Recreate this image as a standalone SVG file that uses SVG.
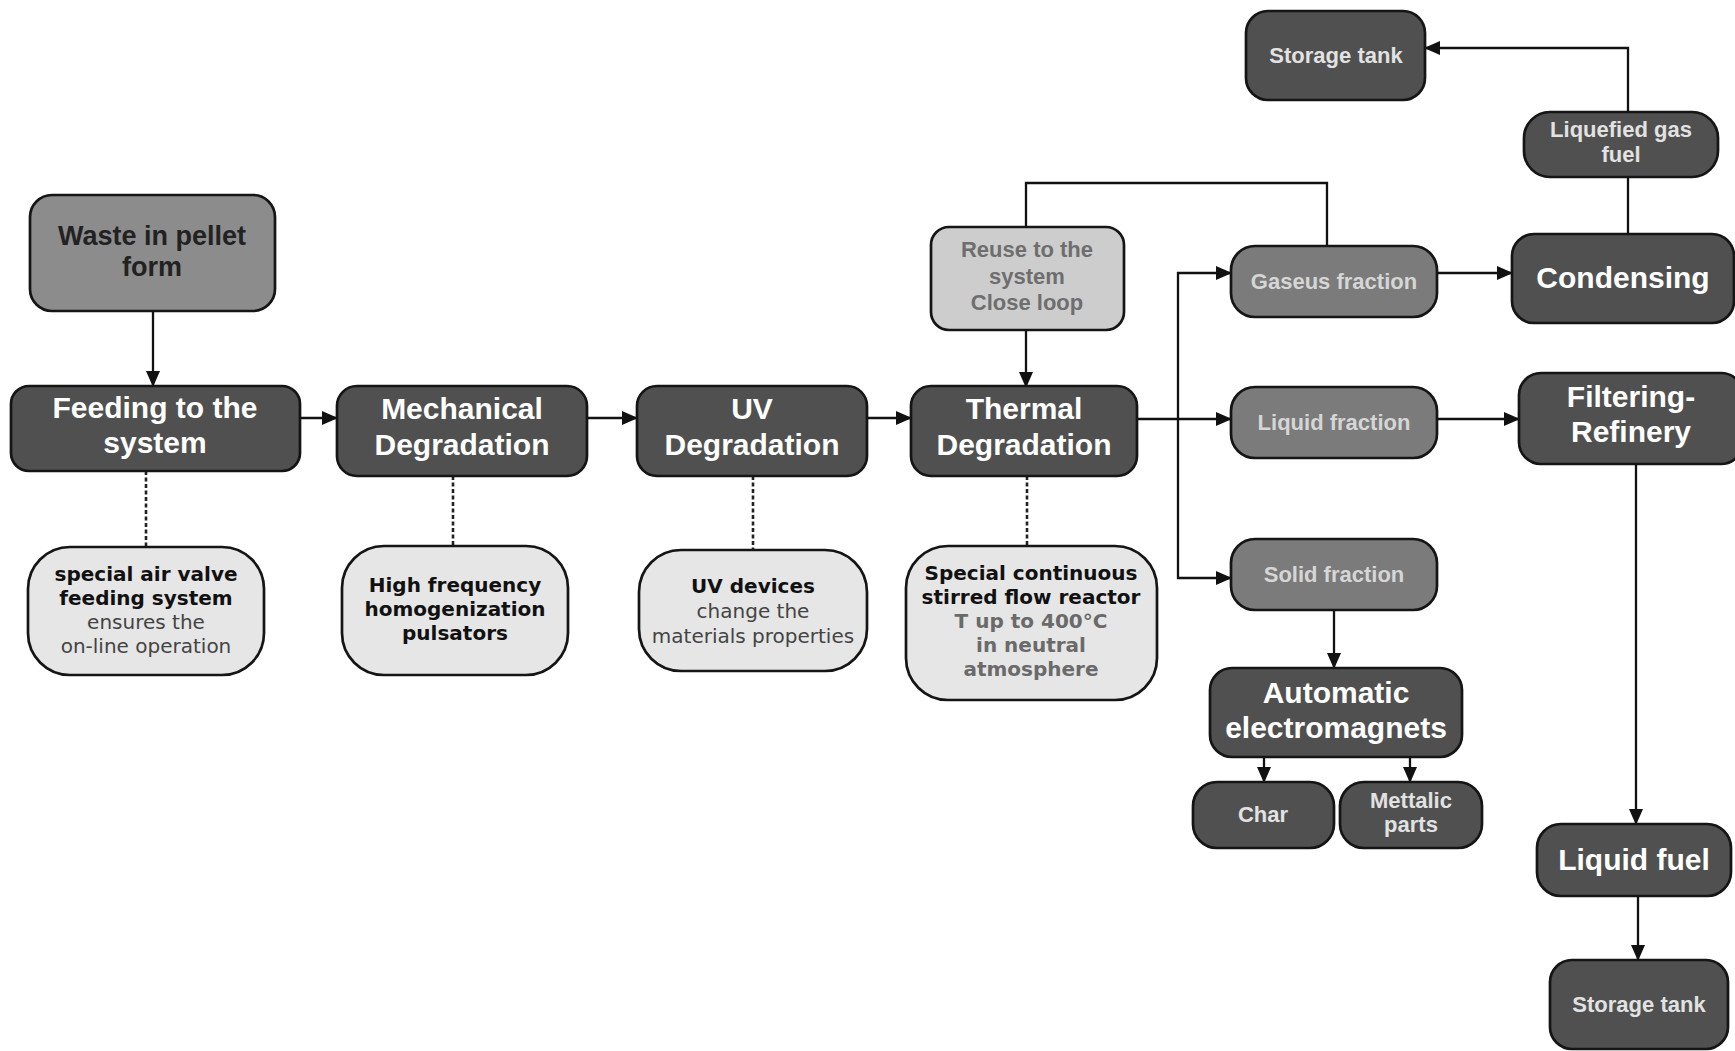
<svg xmlns="http://www.w3.org/2000/svg" width="1735" height="1051" viewBox="0 0 1735 1051">
<defs>
<marker id="ah" markerWidth="16" markerHeight="14" refX="15" refY="7" orient="auto" markerUnits="userSpaceOnUse">
<path d="M0,0 L16,7 L0,14 z" fill="#111"/>
</marker>
<style>
.box{stroke:#151515;stroke-width:2.7}
.dark{fill:#505050}
.frac{fill:#7b7b7b}
.waste{fill:#8c8c8c}
.reuse{fill:#cdcdcd}
.note{fill:#e6e6e6}
.big{font-family:"Liberation Sans",Arial,sans-serif;font-weight:bold;font-size:30px;fill:#ffffff;text-anchor:middle}
.sm{font-family:"Liberation Sans",Arial,sans-serif;font-weight:bold;font-size:22px;fill:#e2e2e2;text-anchor:middle}
.fr{font-family:"Liberation Sans",Arial,sans-serif;font-weight:bold;font-size:22px;fill:#d6d6d6;text-anchor:middle}
.wt{font-family:"Liberation Sans",Arial,sans-serif;font-weight:bold;font-size:27px;fill:#222;text-anchor:middle}
.rt{font-family:"Liberation Sans",Arial,sans-serif;font-weight:bold;font-size:22px;fill:#6e6e6e;text-anchor:middle}
.nb{font-family:"DejaVu Sans",Verdana,sans-serif;font-weight:bold;font-size:20px;fill:#111;text-anchor:middle}
.nr{font-family:"DejaVu Sans",Verdana,sans-serif;font-size:20px;fill:#444;text-anchor:middle}
.ng{font-family:"DejaVu Sans",Verdana,sans-serif;font-weight:bold;font-size:20px;fill:#6a6a6a;text-anchor:middle}
.ln{fill:none;stroke:#111;stroke-width:2.3}
.dash{fill:none;stroke:#222;stroke-width:2.6;stroke-dasharray:4 2.5}
</style>
</defs>
<rect width="1735" height="1051" fill="#ffffff"/>
<g id="connectors">
<path class="ln" d="M153,311 V386" marker-end="url(#ah)"/>
<path class="ln" d="M300,418 H337" marker-end="url(#ah)"/>
<path class="ln" d="M587,418 H637" marker-end="url(#ah)"/>
<path class="ln" d="M867,418 H911" marker-end="url(#ah)"/>
<path class="ln" d="M1137,419 H1231" marker-end="url(#ah)"/>
<path class="ln" d="M1178,419 V273 H1231" marker-end="url(#ah)"/>
<path class="ln" d="M1178,419 V578 H1231" marker-end="url(#ah)"/>
<path class="ln" d="M1437,273 H1512" marker-end="url(#ah)"/>
<path class="ln" d="M1437,419 H1519" marker-end="url(#ah)"/>
<path class="ln" d="M1327,246 V183 H1026 V227"/>
<path class="ln" d="M1026,330 V387" marker-end="url(#ah)"/>
<path class="ln" d="M1628,234 V48 H1425" marker-end="url(#ah)"/>
<path class="ln" d="M1334,610 V668" marker-end="url(#ah)"/>
<path class="ln" d="M1264,757 V782" marker-end="url(#ah)"/>
<path class="ln" d="M1410,757 V782" marker-end="url(#ah)"/>
<path class="ln" d="M1636,464 V824" marker-end="url(#ah)"/>
<path class="ln" d="M1638,896 V960" marker-end="url(#ah)"/>
<path class="dash" d="M146,471 V547"/>
<path class="dash" d="M453,476 V546"/>
<path class="dash" d="M753,476 V550"/>
<path class="dash" d="M1027,476 V546"/>
</g>
<g id="waste">
<rect class="box waste" x="30" y="195" width="245" height="116" rx="22"/>
<text class="wt" x="152" y="245">Waste in pellet</text>
<text class="wt" x="152" y="276">form</text>
</g>
<g id="feeding">
<rect class="box dark" x="11" y="386" width="289" height="85" rx="18"/>
<text class="big" x="155" y="418">Feeding to the</text>
<text class="big" x="155" y="453">system</text>
</g>
<g id="mechanical">
<rect class="box dark" x="337" y="386" width="250" height="90" rx="20"/>
<text class="big" x="462" y="419">Mechanical</text>
<text class="big" x="462" y="455">Degradation</text>
</g>
<g id="uv">
<rect class="box dark" x="637" y="386" width="230" height="90" rx="20"/>
<text class="big" x="752" y="419">UV</text>
<text class="big" x="752" y="455">Degradation</text>
</g>
<g id="thermal">
<rect class="box dark" x="911" y="386" width="226" height="90" rx="20"/>
<text class="big" x="1024" y="419">Thermal</text>
<text class="big" x="1024" y="455">Degradation</text>
</g>
<g id="reuse">
<rect class="box reuse" x="931" y="227" width="193" height="103" rx="18"/>
<text class="rt" x="1027" y="257">Reuse to the</text>
<text class="rt" x="1027" y="284">system</text>
<text class="rt" x="1027" y="310">Close loop</text>
</g>
<g id="note-feeding">
<rect class="box note" x="28" y="547" width="236" height="128" rx="42"/>
<text class="nb" x="146" y="581">special air valve</text>
<text class="nb" x="146" y="605">feeding system</text>
<text class="nr" x="146" y="629">ensures the</text>
<text class="nr" x="146" y="653">on-line operation</text>
</g>
<g id="note-mech">
<rect class="box note" x="342" y="546" width="226" height="129" rx="42"/>
<text class="nb" x="455" y="592">High frequency</text>
<text class="nb" x="455" y="616">homogenization</text>
<text class="nb" x="455" y="640">pulsators</text>
</g>
<g id="note-uv">
<rect class="box note" x="639" y="550" width="228" height="121" rx="42"/>
<text class="nb" x="753" y="593">UV devices</text>
<text class="nr" x="753" y="618">change the</text>
<text class="nr" x="753" y="643">materials properties</text>
</g>
<g id="note-thermal">
<rect class="box note" x="906" y="546" width="251" height="154" rx="42"/>
<text class="nb" x="1031" y="580">Special continuous</text>
<text class="nb" x="1031" y="604">stirred flow reactor</text>
<text class="ng" x="1031" y="628">T up to 400°C</text>
<text class="ng" x="1031" y="652">in neutral</text>
<text class="ng" x="1031" y="676">atmosphere</text>
</g>
<g id="gaseus">
<rect class="box frac" x="1231" y="246" width="206" height="71" rx="24"/>
<text class="fr" x="1334" y="289">Gaseus fraction</text>
</g>
<g id="liquid">
<rect class="box frac" x="1231" y="387" width="206" height="71" rx="24"/>
<text class="fr" x="1334" y="430">Liquid fraction</text>
</g>
<g id="solid">
<rect class="box frac" x="1231" y="539" width="206" height="71" rx="24"/>
<text class="fr" x="1334" y="582">Solid fraction</text>
</g>
<g id="condensing">
<rect class="box dark" x="1512" y="234" width="222" height="89" rx="22"/>
<text class="big" x="1623" y="288">Condensing</text>
</g>
<g id="filtering">
<rect class="box dark" x="1519" y="373" width="224" height="91" rx="22"/>
<text class="big" x="1631" y="407">Filtering-</text>
<text class="big" x="1631" y="442">Refinery</text>
</g>
<g id="liquefied">
<rect class="box dark" x="1524" y="112" width="194" height="65" rx="26"/>
<text class="sm" x="1621" y="137">Liquefied gas</text>
<text class="sm" x="1621" y="162">fuel</text>
</g>
<g id="storage-top">
<rect class="box dark" x="1246" y="11" width="179" height="89" rx="22"/>
<text class="sm" x="1336" y="63">Storage tank</text>
</g>
<g id="automatic">
<rect class="box dark" x="1210" y="668" width="252" height="89" rx="22"/>
<text class="big" x="1336" y="703">Automatic</text>
<text class="big" x="1336" y="738">electromagnets</text>
</g>
<g id="char">
<rect class="box dark" x="1193" y="782" width="141" height="66" rx="24"/>
<text class="sm" x="1263" y="822">Char</text>
</g>
<g id="mettalic">
<rect class="box dark" x="1340" y="782" width="142" height="66" rx="24"/>
<text class="sm" x="1411" y="808">Mettalic</text>
<text class="sm" x="1411" y="832">parts</text>
</g>
<g id="liquid-fuel">
<rect class="box dark" x="1537" y="824" width="194" height="72" rx="24"/>
<text class="big" x="1634" y="870">Liquid fuel</text>
</g>
<g id="storage-bottom">
<rect class="box dark" x="1550" y="960" width="178" height="89" rx="22"/>
<text class="sm" x="1639" y="1012">Storage tank</text>
</g>
</svg>
